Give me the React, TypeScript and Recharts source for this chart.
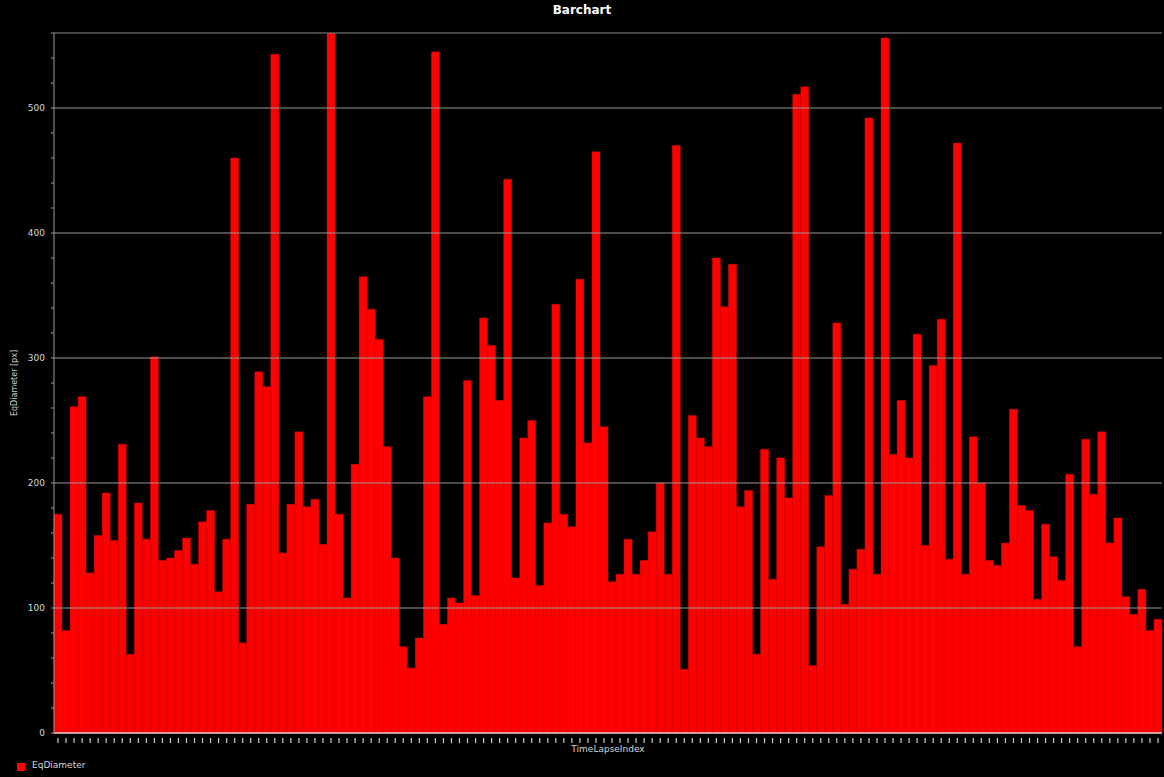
import React from "react";
import { BarChart, Bar, XAxis, YAxis, ReferenceLine, Label } from "recharts";

const eqDiameter: number[] = [
  175, 82, 261, 269, 128, 158, 192, 154, 231, 63, 184, 155, 301, 138, 140, 146, 156, 135, 169, 178,
  113, 155, 460, 72, 183, 289, 277, 543, 144, 183, 241, 181, 187, 151, 560, 175, 108, 215,
  365, 339, 315, 229, 140, 69, 52, 76, 269, 545, 87, 108, 104, 282, 110, 332, 310, 266, 443, 124,
  236, 250, 118, 168, 343, 175, 165, 363, 232, 465, 245, 121, 127, 155, 127, 138,
  161, 200, 127, 470, 51, 254, 236, 229, 380, 341, 375, 181, 194, 63, 227, 123, 220, 188, 511, 517,
  54, 149, 190, 328, 103, 131, 147, 492, 127, 556, 223, 266, 220, 319, 150, 294,
  331, 139, 472, 127, 237, 200, 138, 134, 152, 259, 182, 178, 107, 167, 141, 122, 207, 69, 235, 191,
  241, 152, 172, 109, 95, 115, 82, 91,
];

const timeLapseIndex: number[] = eqDiameter.map((_, i) => i + 1);

const yTicks: number[] = [0, 20, 40, 60, 80, 100, 120, 140, 160, 180, 200, 220, 240, 260, 280, 300, 320, 340, 360, 380, 400, 420, 440, 460, 480, 500, 520, 540, 560];
const gridValues: number[] = [100, 200, 300, 400, 500];
const yMax = 560;

const data = timeLapseIndex.map((t, i) => ({ t: String(t), v: eqDiameter[i] }));

const FONT = "'DejaVu Sans', Verdana, sans-serif";

const YTick = (props: any) => {
  const { x, y, payload } = props;
  const major = payload.value % 100 === 0;
  return (
    <g>
      {major && payload.value !== yMax ? (
        <text x={x - 4} y={y} dy={3} textAnchor="end" fill="#d8d8d8" fontSize={9} fontFamily={FONT}>
          {payload.value}
        </text>
      ) : null}
    </g>
  );
};

const XTick = (props: any) => {
  const { x, y } = props;
  return <rect x={x - 0.6} y={y - 3} width={1.2} height={5} fill="#cfcfcf" />;
};

export default function App() {
  return (
    <div
      style={{
        position: "absolute",
        left: 0,
        top: 0,
        width: 1164,
        height: 777,
        background: "#000000",
        overflow: "hidden",
        fontFamily: FONT,
      }}
    >
      <div
        style={{
          position: "absolute",
          left: 0,
          top: 3,
          width: 1164,
          textAlign: "center",
          color: "#ffffff",
          fontWeight: "bold",
          fontSize: 12,
          fontFamily: FONT,
        }}
      >
        Barchart
      </div>
      <BarChart
        width={1164}
        height={777}
        data={data}
        margin={{ top: 33, right: 2, bottom: 30, left: 0 }}
        barCategoryGap={0}
        barGap={0}
      >
        <XAxis
          xAxisId="main"
          dataKey="t"
          interval={0}
          height={14}
          tick={<XTick />}
          tickLine={false}
          axisLine={{ stroke: "#e8d0d0", strokeWidth: 1.5 }}
        >
          <Label value="TimeLapseIndex" position="bottom" offset={-1} fill="#d8d8d8" fontSize={9} fontFamily={FONT} />
        </XAxis>
        <YAxis
          yAxisId="left"
          width={54}
          domain={[0, yMax]}
          ticks={yTicks}
          interval={0}
          tick={<YTick />}
          tickSize={3}
          tickLine={{ stroke: "#9a9a9a" }}
          axisLine={{ stroke: "#9a9a9a" }}
          allowDataOverflow
        >
          <Label value="EqDiameter [px]" angle={-90} position="insideLeft" offset={14} fill="#cfcfcf" fontSize={8} fontFamily={FONT} style={{ textAnchor: "middle" }} />
        </YAxis>
        <YAxis yAxisId="right" orientation="right" width={0} domain={[0, yMax]} tick={false} tickLine={false} axisLine={{ stroke: "#8a8a8a" }} />
        {gridValues.map((g) => (
          <ReferenceLine key={g} y={g} xAxisId="main" yAxisId="left" stroke="#9a9a9a" strokeWidth={1} />
        ))}
        <ReferenceLine y={yMax} xAxisId="main" yAxisId="left" stroke="#8a8a8a" strokeWidth={1} />
        <Bar
          dataKey="v"
          xAxisId="main"
          yAxisId="left"
          fill="#ff0000"
          stroke="#e00000"
          strokeWidth={0.4}
          isAnimationActive={false}
        />
      </BarChart>
      <div style={{ position: "absolute", left: 17, top: 763, width: 8, height: 8, background: "#ff0000" }} />
      <div
        style={{
          position: "absolute",
          left: 32,
          top: 760,
          fontSize: 9,
          color: "#d8d8d8",
          fontFamily: FONT,
          whiteSpace: "nowrap",
        }}
      >
        EqDiameter
      </div>
    </div>
  );
}
